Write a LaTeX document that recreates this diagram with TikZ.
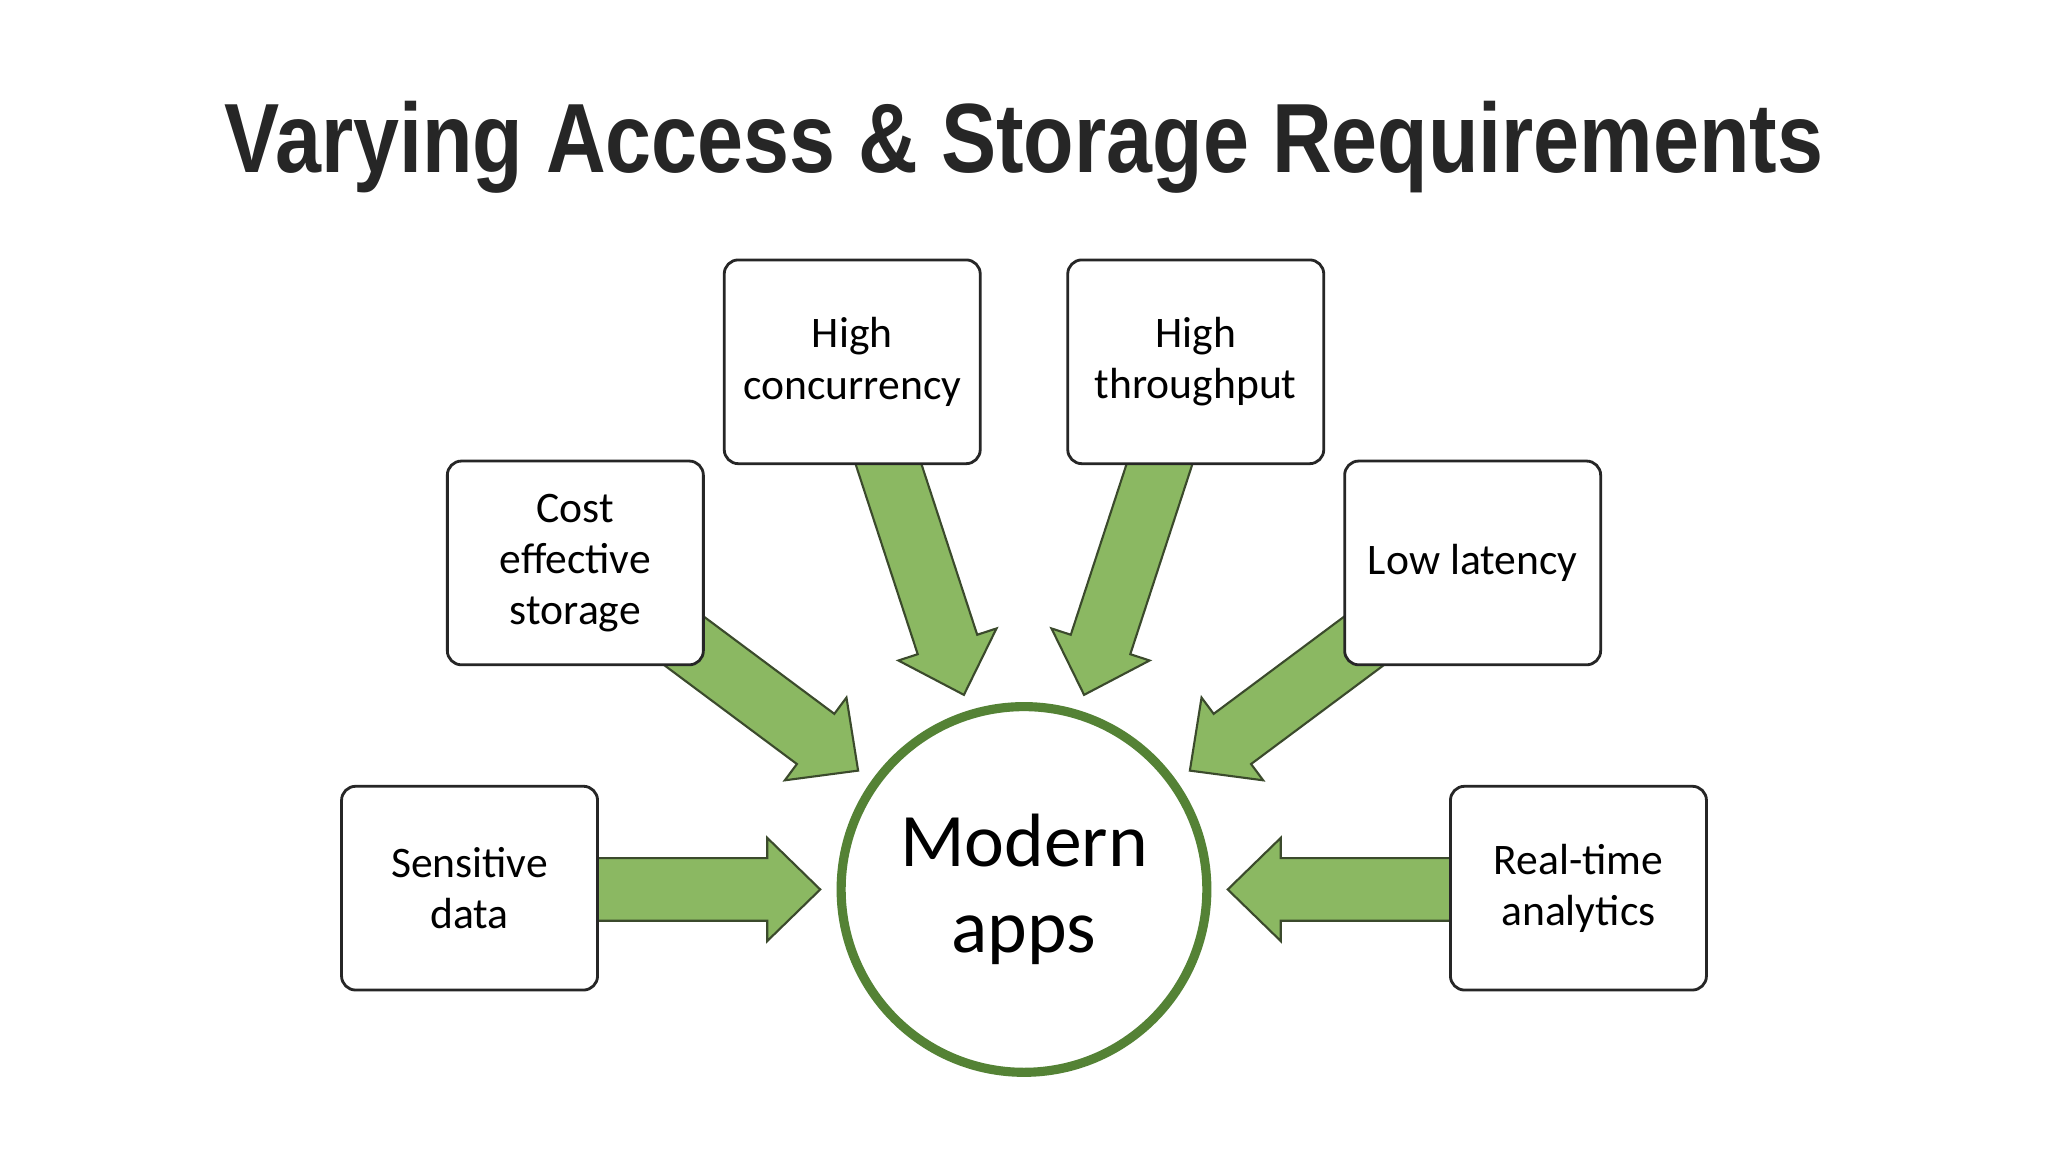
\documentclass[tikz,border=0pt]{standalone}
\usepackage{fontspec}
\setmainfont{Carlito}
\newfontfamily\titlefont{Liberation Sans}
\usetikzlibrary{calc}
\definecolor{arrfill}{HTML}{8BB862}
\definecolor{arrline}{HTML}{3B4A2C}
\definecolor{circ}{HTML}{548235}
\definecolor{txt}{HTML}{262626}
\newcommand{\blockarr}[2]{%
  \coordinate (h#1#2) at ($(#2)!0.53cm!(#1)$);
  \filldraw[fill=arrfill,draw=arrline,line width=0.6pt,line join=miter]
    ($(#1)!0.313cm!90:(#2)$) -- ($(h#1#2)!0.313cm!90:(#2)$) -- ($(h#1#2)!0.516cm!90:(#2)$)
    -- (#2) -- ($(h#1#2)!0.516cm!-90:(#2)$) -- ($(h#1#2)!0.313cm!-90:(#2)$)
    -- ($(#1)!0.313cm!-90:(#2)$) -- cycle;}
\begin{document}
\begin{tikzpicture}[x=0.013061cm,y=-0.013061cm,
  box/.style={draw=txt,line width=0.8pt,fill=white,rounded corners=4pt,minimum width=196*0.013061cm,minimum height=156*0.013061cm,align=center,font=\fontsize{12.4}{14.6}\selectfont,text=black,inner sep=0pt}]
\useasboundingbox[fill=white] (0,0) rectangle (1568,882);
\node[font=\titlefont\bfseries\fontsize{28}{32}\selectfont,text=txt] (title) at (784,113) {\scalebox{0.84}[1]{Varying Access \& Storage Requirements}};
% arrow endpoints
\coordinate (t1) at (420,681); \coordinate (p1) at (628,681);
\coordinate (t2) at (1148,681); \coordinate (p2) at (940,681);
\coordinate (t3) at (500,473); \coordinate (p3) at (657,590);
\coordinate (t4) at (1068,473); \coordinate (p4) at (911,590);
\coordinate (t5) at (672,330); \coordinate (p5) at (738,532);
\coordinate (t6) at (896,330); \coordinate (p6) at (830,532);
\blockarr{t1}{p1}\blockarr{t2}{p2}\blockarr{t3}{p3}\blockarr{t4}{p4}\blockarr{t5}{p5}\blockarr{t6}{p6}
\node[box] (sd) at (359.5,680) {Sensitive\\data};
\node[box] (ce) at (440.5,431) {Cost\\effective\\storage};
\node[box] (hc) at (652.5,277) {High\\concurrency};
\node[box] (ht) at (915.5,277) {High\\throughput};
\node[box] (ll) at (1127.5,431) {Low latency};
\node[box] (rt) at (1208.5,680) {Real-time\\analytics};
\node[circle,draw=circ,line width=2.6pt,fill=white,minimum size=280*0.013061cm,align=center,font=\fontsize{21.5}{24.5}\selectfont] (ma) at (784,681) {Modern\\apps};
\end{tikzpicture}
\end{document}
